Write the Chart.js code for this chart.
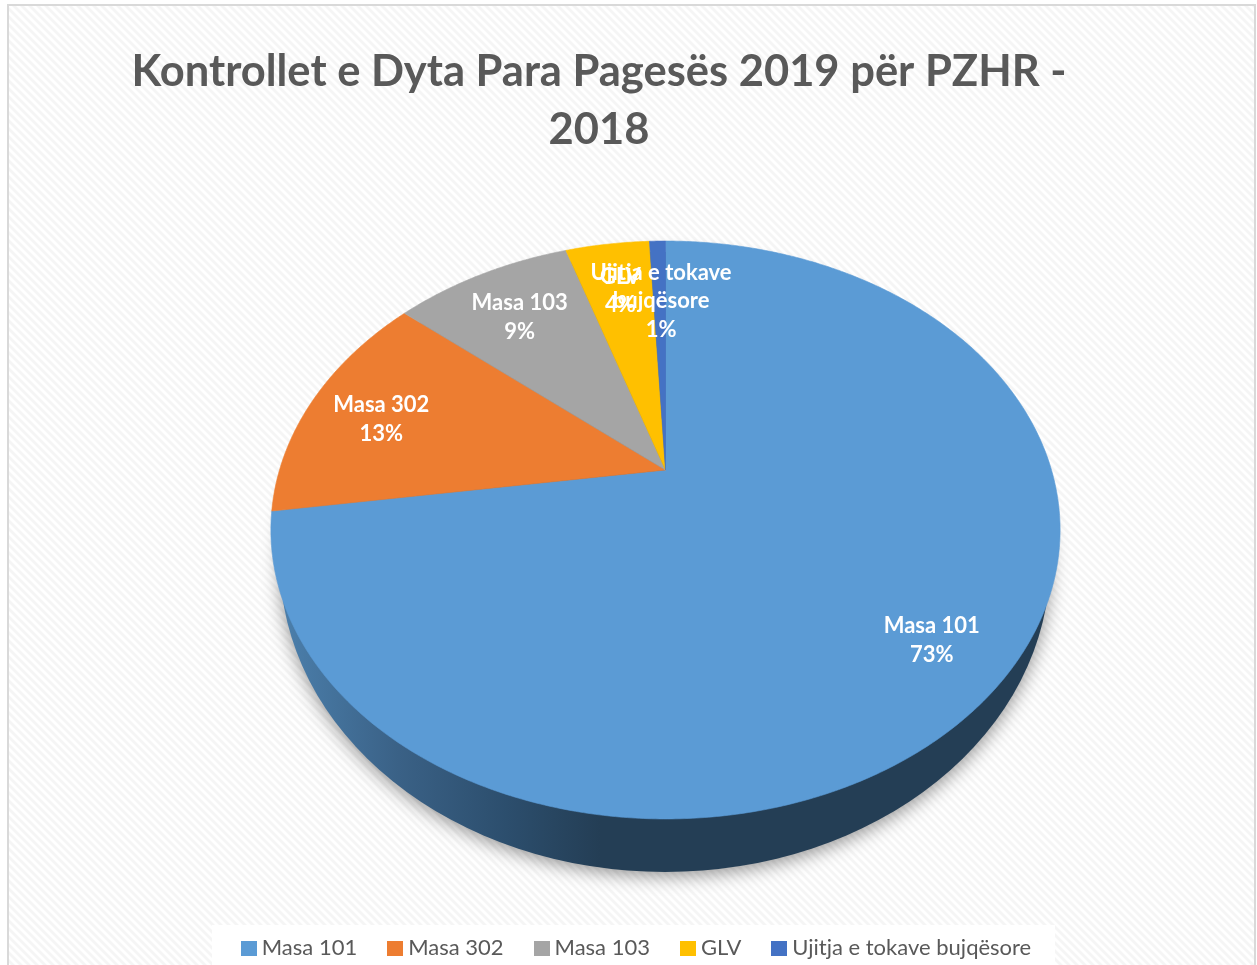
<!DOCTYPE html>
<html><head><meta charset="utf-8">
<style>html,body{margin:0;padding:0;background:#fff;overflow:hidden}canvas{display:block}</style>
<script src="https://cdn.jsdelivr.net/npm/chart.js@4"></script>
</head><body><canvas id="c" width="1257" height="965"></canvas>
<script>
const titleLines = ['Kontrollet e Dyta Para Pagesës 2019 për PZHR -', '2018'];
const categories = ['Masa 101', 'Masa 302', 'Masa 103', 'GLV', 'Ujitja e tokave bujqësore'];
const values = [72.7, 13.4, 8.9, 4.2, 0.8];
const colors = ['#5B9BD5', '#ED7D31', '#A5A5A5', '#FFC000', '#4472C4'];

const FONT = 'Lato, Carlito, sans-serif';
// perspective projection of the pie disc
const P = {ax: 665.5, ay: 470, A: 386, B: 276.5, k: 0.2076};
function proj(theta, r) {
  const u = Math.sin(theta) * r, v = -Math.cos(theta) * r, w = 1 - P.k * v;
  return [P.ax + P.A * u / w, P.ay + P.B * v / w];
}
const labelRadius = [0.81, 0.8, 0.77, 0.78, 0.7];
const labelShift = [[0.5, 5.5], [0, 7], [1, 3], [2, 4], [1.5, 0]];

function swatch(color) {
  const s = document.createElement('canvas');
  s.width = 16; s.height = 15;
  const g = s.getContext('2d');
  g.fillStyle = color; g.fillRect(0, 0, 16, 15);
  return s;
}
function hatch(ctx) {
  const s = document.createElement('canvas');
  s.width = 8; s.height = 8;
  const g = s.getContext('2d');
  g.fillStyle = '#ffffff'; g.fillRect(0, 0, 8, 8);
  g.strokeStyle = '#f5f5f5'; g.lineWidth = 2.8;
  g.beginPath();
  g.moveTo(-4, 4); g.lineTo(4, 12);
  g.moveTo(0, 0); g.lineTo(8, 8);
  g.moveTo(4, -4); g.lineTo(12, 4);
  g.stroke();
  return ctx.createPattern(s, 'repeat');
}

const pie3d = {
  id: 'pie3d',
  beforeDraw(chart) {
    const c = chart.ctx;
    c.save();
    c.fillStyle = '#fff'; c.fillRect(0, 0, 1257, 965);
    c.fillStyle = hatch(c); c.fillRect(8, 5, 1247, 960);
    c.strokeStyle = '#d9d9d9'; c.lineWidth = 2;
    c.beginPath(); c.moveTo(8, 965); c.lineTo(8, 5); c.lineTo(1255, 5); c.lineTo(1255, 965); c.stroke();
    c.fillStyle = '#fff'; c.fillRect(212, 925, 843, 40);
    c.restore();
  },
  afterLayout(chart) {
    chart.legend.left += 40; chart.legend.right += 40;
  },
  beforeDatasetDraw(chart, args) {
    const c = chart.ctx, arcs = chart.getDatasetMeta(args.index).data;
    // side wall + shadow
    c.save();
    const g = c.createLinearGradient(290, 0, 600, 0);
    g.addColorStop(0, '#4A7DA9');
    g.addColorStop(0.35, '#3A6186');
    g.addColorStop(0.7, '#2C4E6D');
    g.addColorStop(1, '#243E55');
    c.shadowColor = 'rgba(0,0,0,0.42)'; c.shadowBlur = 18; c.shadowOffsetY = 4;
    c.fillStyle = g;
    c.beginPath(); c.ellipse(665, 562, 385, 310, 0, 0, Math.PI * 2); c.fill();
    c.restore();
    // top face
    arcs.forEach((a, i) => {
      const s = a.startAngle + Math.PI / 2, e = a.endAngle + Math.PI / 2;
      c.save();
      c.beginPath(); c.moveTo(P.ax, P.ay);
      const n = Math.max(4, Math.ceil((e - s) * 120));
      for (let j = 0; j <= n; j++) { const p = proj(s + (e - s) * j / n, 1); c.lineTo(p[0], p[1]); }
      c.closePath();
      c.fillStyle = colors[i]; c.strokeStyle = colors[i]; c.lineWidth = 0.6;
      c.fill(); c.stroke();
      c.restore();
    });
    return false;
  },
  afterDatasetsDraw(chart) {
    const c = chart.ctx, arcs = chart.getDatasetMeta(0).data;
    const total = values.reduce((x, y) => x + y, 0);
    c.save();
    c.font = 'bold 22px ' + FONT; c.fillStyle = '#fff'; c.textAlign = 'center'; c.textBaseline = 'middle';
    arcs.forEach((a, i) => {
      const mid = (a.startAngle + a.endAngle) / 2 + Math.PI / 2;
      const p = proj(mid, labelRadius[i]);
      const words = categories[i].split(' '), lines = [];
      let cur = '';
      words.forEach(w => {
        const t = cur ? cur + ' ' + w : w;
        if (c.measureText(t).width > 160 && cur) { lines.push(cur); cur = w; } else cur = t;
      });
      lines.push(cur);
      lines.push(Math.round(values[i] / total * 100) + '%');
      const lh = 28.6, y0 = p[1] + labelShift[i][1] - (lines.length - 1) * lh / 2;
      lines.forEach((l, j) => c.fillText(l, p[0] + labelShift[i][0], y0 + j * lh));
    });
    c.restore();
  }
};

new Chart(document.getElementById('c'), {
  type: 'pie',
  plugins: [pie3d],
  data: {labels: categories, datasets: [{data: values, backgroundColor: colors, borderWidth: 0}]},
  options: {
    responsive: false, animation: false,
    layout: {padding: {right: 59, bottom: -4}},
    plugins: {
      tooltip: {enabled: false},
      title: {
        display: true, text: titleLines, color: '#595959',
        font: {family: FONT, size: 43.5, weight: 'bold', lineHeight: 1.335},
        padding: {top: 43, bottom: 20}
      },
      legend: {
        position: 'bottom',
        labels: {
          color: '#595959', font: {family: FONT, size: 22},
          usePointStyle: true, pointStyleWidth: 4, boxHeight: 15, padding: 36,
          generateLabels: () => categories.map((text, i) => ({
            text, index: i, hidden: false, lineWidth: 0, fontColor: '#595959',
            fillStyle: colors[i], strokeStyle: colors[i], pointStyle: swatch(colors[i])
          }))
        }
      }
    }
  }
});
</script></body></html>
